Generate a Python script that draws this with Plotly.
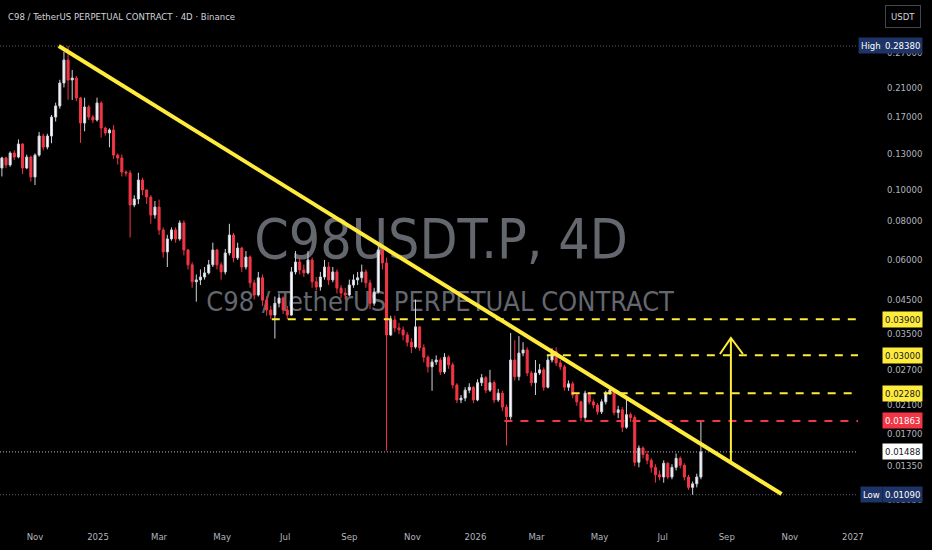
import numpy as np
import pandas as pd
import plotly.graph_objects as go

FONT = "DejaVu Sans Condensed, Liberation Sans, sans-serif"
SMALL = 9.5

# 4D candles, C98/USDT perpetual
first_open = 0.1170
close_prices = [
    .1258, .1196, .1304, .1267, .1393, .1170, .1267, .1096, .1285, .1476,
    .1362, .1476, .1694, .1836, .2169, .2564, .2217, .2249, .1945, .1622,
    .1822, .1694, .1658, .1876, .1564, .1509, .1542, .1285, .1258, .1136,
    .1128, .0894, .0934, .1072, .0997, .0947, .0831, .0881, .0746, .0636,
    .0699, .0746, .0699, .0785, .0645, .0579, .0512, .0519, .0530, .0546,
    .0579, .0645, .0579, .0550, .0631, .0719, .0609, .0654, .0570, .0613,
    .0508, .0465, .0527, .0448, .0417, .0402, .0438, .0455, .0417, .0402,
    .0550, .0591, .0558, .0546, .0600, .0512, .0493, .0530, .0570, .0519,
    .0550, .0489, .0472, .0465, .0500, .0519, .0527, .0550, .0508, .0438,
    .0475, .0645, .0587, .0348, .0388, .0366, .0361, .0348, .0330, .0319,
    .0369, .0317, .0296, .0276, .0286, .0290, .0266, .0296, .0280, .0242,
    .0217, .0220, .0233, .0238, .0217, .0246, .0255, .0233, .0246, .0217,
    .0228, .0206, .0192, .0290, .0257, .0305, .0312, .0264, .0246, .0264,
    .0270, .0238, .0290, .0308, .0284, .0276, .0238, .0244, .0225, .0214,
    .0191, .0228, .0214, .0209, .0199, .0214, .0228, .0233, .0198, .0202,
    .0178, .0195, .0191, .0138, .0153, .0146, .0140, .0133, .0126, .0124,
    .0137, .0124, .0133, .0142, .0135, .0124, .0115, .0118, .0124, .01488,
]
high_prices = [
    .1270, .1270, .1320, .1330, .1440, .1400, .1290, .1280, .1300, .1520,
    .1500, .1500, .1720, .1880, .2220, .2720, .2838, .2384, .2280, .1960,
    .1950, .1850, .1720, .1950, .1900, .1580, .1560, .1600, .1300, .1290,
    .1150, .1150, .0960, .1130, .1090, .1000, .0960, .0920, .0930, .0760,
    .0720, .0760, .0760, .0800, .0800, .0650, .0590, .0540, .0560, .0570,
    .0600, .0680, .0650, .0590, .0650, .0780, .0730, .0680, .0660, .0640,
    .0620, .0520, .0550, .0540, .0460, .0430, .0460, .0470, .0460, .0430,
    .0570, .0640, .0610, .0580, .0640, .0610, .0530, .0550, .0600, .0590,
    .0570, .0560, .0500, .0490, .0520, .0540, .0550, .0580, .0560, .0520,
    .0490, .0670, .0670, .0610, .0400, .0400, .0380, .0370, .0355, .0340,
    .0450, .0370, .0325, .0300, .0292, .0300, .0295, .0305, .0300, .0285,
    .0245, .0225, .0238, .0245, .0240, .0252, .0262, .0258, .0270, .0250,
    .0235, .0232, .0210, .0353, .0335, .0345, .0330, .0318, .0268, .0290,
    .0282, .0275, .0300, .0316, .0318, .0290, .0280, .0250, .0248, .0228,
    .0216, .0232, .0230, .0218, .0212, .0218, .0232, .0240, .0236, .0208,
    .0206, .0217, .0198, .0194, .0156, .0155, .0150, .0142, .0136, .0130,
    .0140, .0138, .0136, .0147, .0144, .0137, .0126, .0120, .0127, .0187,
]
low_prices = [
    .1100, .1170, .1180, .1240, .1255, .1120, .1160, .1060, .1034, .1270,
    .1330, .1340, .1400, .1640, .1800, .2100, .1920, .1917, .1900, .1404,
    .1527, .1660, .1620, .1640, .1460, .1480, .1360, .1250, .1200, .1100,
    .1100, .0706, .0880, .0900, .0960, .0900, .0780, .0810, .0720, .0610,
    .0570, .0690, .0680, .0690, .0620, .0560, .0490, .0443, .0500, .0520,
    .0540, .0570, .0560, .0520, .0540, .0620, .0590, .0600, .0550, .0560,
    .0490, .0450, .0460, .0430, .0400, .0390, .0339, .0425, .0405, .0390,
    .0400, .0540, .0540, .0530, .0540, .0490, .0480, .0480, .0520, .0500,
    .0510, .0470, .0455, .0450, .0460, .0490, .0500, .0510, .0490, .0420,
    .0430, .0470, .0560, .0150, .0345, .0355, .0350, .0335, .0320, .0305,
    .0315, .0310, .0285, .0265, .0232, .0280, .0260, .0262, .0272, .0236,
    .0212, .0212, .0215, .0228, .0212, .0215, .0240, .0228, .0230, .0212,
    .0214, .0200, .0156, .0188, .0250, .0250, .0298, .0258, .0240, .0225,
    .0260, .0232, .0236, .0285, .0278, .0270, .0232, .0232, .0220, .0208,
    .0186, .0188, .0210, .0204, .0195, .0196, .0210, .0225, .0194, .0190,
    .0172, .0176, .0185, .0134, .0133, .0142, .0136, .0128, .0119, .0121,
    .0119, .0122, .0122, .0130, .0132, .0121, .0113, .0109, .0115, .0122,
]
open_prices = [first_open] + close_prices[:-1]
candle_dates = pd.date_range("2024-09-30", periods=len(close_prices), freq="4D")

tick_dates = ["2024-11-01", "2025-01-01", "2025-03-01", "2025-05-01", "2025-07-01",
              "2025-09-01", "2025-11-01", "2026-01-01", "2026-03-01", "2026-05-01",
              "2026-07-01", "2026-09-01", "2026-11-01", "2027-01-01"]
tick_names = ["Nov", "2025", "Mar", "May", "Jul", "Sep", "Nov", "2026",
              "Mar", "May", "Jul", "Sep", "Nov", "2027"]
price_ticks = [0.27, 0.21, 0.17, 0.13, 0.10, 0.08, 0.06, 0.045,
               0.035, 0.027, 0.021, 0.017, 0.0135, 0.0105]

high_price = 0.2838
low_price = 0.0109
last_price = 0.01488
resist_levels = [0.039, 0.030, 0.0228]
resist_from = ["2025-06-18", "2026-03-11", "2026-04-04"]
break_level = 0.01863
break_from = "2026-01-29"
trend_x = ["2024-11-24", "2026-10-24"]
trend_y = [0.2838, 0.01096]
target_x = "2026-09-05"
target_y = [0.01383, 0.03403]

x_left, x_right = "2024-09-28 04:00", "2027-01-05 22:00"
YELLOW = "#ffeb3b"
RED = "#f23645"
NAVY = "#1e3366"

fig = go.Figure()

# watermark sits on the base axes so the candles draw over it
fig.add_trace(go.Scatter(x=[0.514, 0.513], y=[0.534, 0.42], mode="text",
                         text=["C98USDT.P, 4D", "C98 / TetherUS PERPETUAL CONTRACT"],
                         textfont=dict(size=[55, 27], color="#64676e", family=FONT),
                         hoverinfo="skip"))

fig.add_trace(go.Candlestick(
    x=candle_dates, open=open_prices, high=high_prices, low=low_prices, close=close_prices,
    xaxis="x2", yaxis="y2", whiskerwidth=0,
    increasing=dict(line=dict(color="#d1d4dc", width=1), fillcolor="#ffffff"),
    decreasing=dict(line=dict(color=RED, width=1), fillcolor=RED),
))

shapes = []
for lvl in [high_price, low_price]:
    shapes.append(dict(type="line", xref="paper", yref="y2", x0=0, x1=1, y0=lvl, y1=lvl,
                       line=dict(color="#5d606b", width=1, dash="1px,2px")))
shapes.append(dict(type="line", xref="paper", yref="y2", x0=0, x1=1, y0=last_price, y1=last_price,
                   line=dict(color="#b8bbc4", width=1, dash="1px,2px")))
for lvl, start in zip(resist_levels, resist_from):
    shapes.append(dict(type="line", xref="x2", yref="y2", x0=start, x1=x_right, y0=lvl, y1=lvl,
                       line=dict(color=YELLOW, width=2, dash="8px,8px")))
shapes.append(dict(type="line", xref="x2", yref="y2", x0=break_from, x1=x_right,
                   y0=break_level, y1=break_level, line=dict(color=RED, width=2, dash="8px,8px")))
shapes.append(dict(type="line", xref="x2", yref="y2", x0=trend_x[0], x1=trend_x[1],
                   y0=trend_y[0], y1=trend_y[1], line=dict(color=YELLOW, width=4)))
shapes.append(dict(type="line", xref="x2", yref="y2", x0=target_x, x1=target_x,
                   y0=target_y[0], y1=target_y[1], line=dict(color=YELLOW, width=2)))
shapes.append(dict(type="path", xref="x2", yref="y2", xsizemode="pixel", ysizemode="pixel",
                   xanchor=target_x, yanchor=target_y[1], path="M-11,-16 L0,0 L12,-16",
                   line=dict(color=YELLOW, width=2)))


def tag(value, text, bg, fg, xshift=24):
    return dict(xref="paper", x=1, xanchor="left", xshift=xshift, yref="y2",
                y=np.log10(value), text=text, showarrow=False, bgcolor=bg,
                font=dict(color=fg, size=SMALL, family=FONT), borderpad=2)


annotations = [
    tag(high_price, "High", NAVY, "#ffffff", 0),
    tag(high_price, f"{high_price:.5f}", NAVY, "#ffffff"),
    tag(low_price, "Low", NAVY, "#ffffff", 2),
    tag(low_price, f"{low_price:.5f}", NAVY, "#ffffff"),
    tag(last_price, f"{last_price:.5f}", "#ffffff", "#131722"),
    tag(break_level, f"{break_level:.5f}", RED, "#ffffff"),
]
for lvl in resist_levels:
    annotations.append(tag(lvl, f"{lvl:.5f}", YELLOW, "#131722"))
annotations.append(dict(xref="paper", yref="paper", x=0, y=1, xanchor="left", yanchor="top",
                        xshift=6, yshift=-9, showarrow=False,
                        text="C98 / TetherUS PERPETUAL CONTRACT · 4D · Binance",
                        font=dict(color="#d1d4dc", size=SMALL, family=FONT)))
annotations.append(dict(xref="paper", yref="paper", x=1, y=1, xanchor="left", yanchor="top",
                        xshift=27, yshift=-5, showarrow=False, text="USDT",
                        font=dict(color="#d1d4dc", size=SMALL, family=FONT),
                        bordercolor="#434651", borderwidth=1, borderpad=5))

fig.update_layout(
    width=932, height=550,
    margin=dict(l=0, r=74, t=0, b=25),
    paper_bgcolor="#000000", plot_bgcolor="#000000",
    showlegend=False,
    font=dict(family=FONT, size=SMALL, color="#b2b5be"),
    xaxis=dict(range=[0, 1], visible=False, fixedrange=True),
    yaxis=dict(range=[0, 1], visible=False, fixedrange=True),
    xaxis2=dict(overlaying="x", anchor="y2", type="date", range=[x_left, x_right],
                tickvals=tick_dates, ticktext=tick_names, showgrid=False, zeroline=False,
                showline=False, ticks="", ticklabelstandoff=4,
                rangeslider=dict(visible=False)),
    yaxis2=dict(overlaying="y", anchor="x2", side="right", type="log",
                range=[-2.058, -0.4019], tickvals=price_ticks,
                ticktext=[f"{v:.5f}" for v in price_ticks], showgrid=False,
                zeroline=False, showline=False, ticks="", ticklabelstandoff=28),
    shapes=shapes, annotations=annotations,
)

# the page's default body margin would push the chart 8px off the window
fig.write_html("out.html", config={"displayModeBar": False},
               post_script="document.body.style.margin='0px';")
